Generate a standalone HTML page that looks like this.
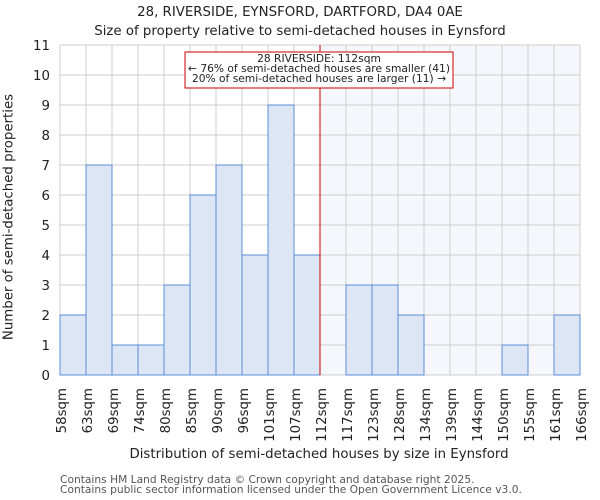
<!DOCTYPE html>
<html><head><meta charset="utf-8"><style>
body{margin:0;background:#fff;}
svg{display:block;font-family:"DejaVu Sans","Liberation Sans",sans-serif;}
</style></head><body>
<svg id="chart" width="600" height="500" xmlns="http://www.w3.org/2000/svg">
<text x="300" y="16" font-size="13.33" text-anchor="middle" fill="#222">28, RIVERSIDE, EYNSFORD, DARTFORD, DA4 0AE</text>
<text x="300" y="35" font-size="13.33" text-anchor="middle" fill="#222">Size of property relative to semi-detached houses in Eynsford</text>
<g id="plot"></g>
<text x="319" y="458" font-size="13.33" text-anchor="middle" fill="#222">Distribution of semi-detached houses by size in Eynsford</text>
<text transform="translate(12.5,217) rotate(-90)" font-size="13.33" text-anchor="middle" fill="#222">Number of semi-detached properties</text>
<text x="60" y="483" font-size="10.67" fill="#555">Contains HM Land Registry data © Crown copyright and database right 2025.</text>
<text x="60" y="493" font-size="10.67" fill="#555">Contains public sector information licensed under the Open Government Licence v3.0.</text>
</svg>
<script>
const categories=["58sqm","63sqm","69sqm","74sqm","80sqm","85sqm","90sqm","96sqm","101sqm","107sqm","112sqm","117sqm","123sqm","128sqm","134sqm","139sqm","144sqm","150sqm","155sqm","161sqm","166sqm"];
const counts=[2,7,1,1,3,6,7,4,9,4,0,3,3,2,0,0,0,1,0,2];
const yTicks=[0,1,2,3,4,5,6,7,8,9,10,11];
const markerIndex=10;
const annotationLines=["28 RIVERSIDE: 112sqm","← 76% of semi-detached houses are smaller (41)","20% of semi-detached houses are larger (11) →"];

const NS="http://www.w3.org/2000/svg";
const g=document.getElementById('plot');
const L=60,R=580,T=45,B=375,yMax=11;
const x=i=>L+i*(R-L)/counts.length;
const y=v=>B-v*(B-T)/yMax;
function mk(tag,attrs,parent){const e=document.createElementNS(NS,tag);for(const k in attrs)e.setAttribute(k,attrs[k]);(parent||g).appendChild(e);return e;}

let sh=mk('rect',{x:x(markerIndex),y:T,width:R-x(markerIndex),height:B-T,fill:'#f5f7fd'});


yTicks.forEach(t=>{
  let l=mk('line',{x1:L,x2:R,y1:y(t),y2:y(t),stroke:'#cccccc','stroke-width':1});
  
  
  let tx=mk('text',{x:L-10,y:y(t)+5,'font-size':13.33,'text-anchor':'end',fill:'#222'});
  tx.textContent=t;
  
  
});
categories.forEach((c,i)=>{
  let l=mk('line',{x1:x(i),x2:x(i),y1:T,y2:B,stroke:'#cccccc','stroke-width':1});
  
  
  let tx=mk('text',{transform:`translate(${x(i)+6},388) rotate(-90)`,'font-size':13.33,'text-anchor':'end',fill:'#222'});
  tx.textContent=c;
  
  
});
counts.forEach((v,i)=>{
  if(v<=0)return;
  let r=mk('rect',{x:x(i),y:y(v),width:x(i+1)-x(i),height:y(0)-y(v),fill:'#dce6f4',stroke:'#5b8fd6','stroke-width':1});
  
  
});
let ml=mk('line',{x1:x(markerIndex),x2:x(markerIndex),y1:T,y2:B,stroke:'#cc0000','stroke-width':1});


let box=mk('rect',{x:185,y:52,width:268,height:36,fill:'#fff',stroke:'#cc0000','stroke-width':1});


annotationLines.forEach((s,k)=>{
  let tx=mk('text',{x:319,y:62+k*10,'font-size':10.67,'text-anchor':'middle',fill:'#222'});
  tx.textContent=s;
  
  
});
</script>
</body></html>
